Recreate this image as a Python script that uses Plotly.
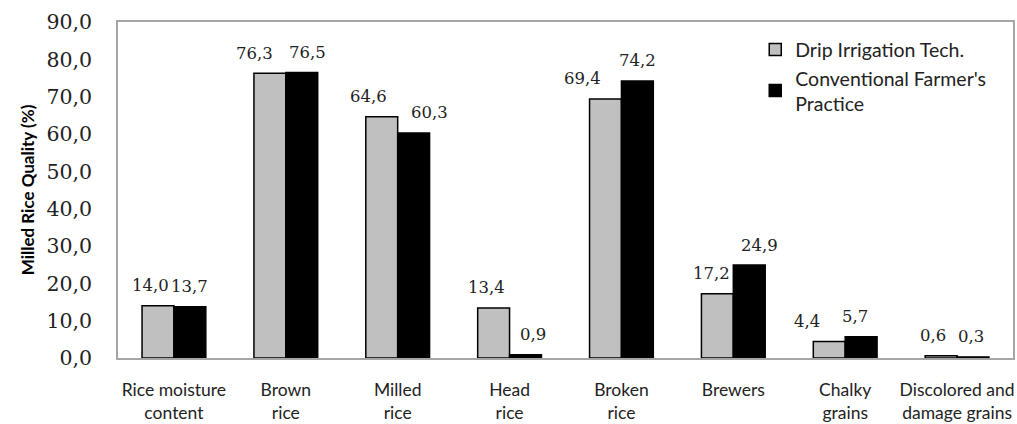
import plotly.graph_objects as go

# Milled rice quality parameters (%)
categories = [
    "Rice moisture<br>content",
    "Brown<br>rice",
    "Milled<br>rice",
    "Head<br>rice",
    "Broken<br>rice",
    "Brewers",
    "Chalky<br>grains",
    "Discolored and<br>damage grains",
]
drip_irrigation = [14.0, 76.3, 64.6, 13.4, 69.4, 17.2, 4.4, 0.6]
conventional_practice = [13.7, 76.5, 60.3, 0.9, 74.2, 24.9, 5.7, 0.3]

y_ticks = [0, 10, 20, 30, 40, 50, 60, 70, 80, 90]

# horizontal nudges (px) of the value labels so neighbouring labels don't collide
drip_label_dx = [-8, -15, -13, -7, -23, -6, -22, -8]
conv_label_dx = [0, 6, 16, 7, 0, 10, -6, -2]

BAR_GAP = 0.43
bar_w = (1 - BAR_GAP) / 2

fig = go.Figure()
fig.add_trace(go.Bar(
    name="Drip Irrigation Tech.",
    x=categories,
    y=drip_irrigation,
    marker=dict(color="#c0c0c0", line=dict(color="#000000", width=1.5)),
))
fig.add_trace(go.Bar(
    name="Conventional Farmer's<br>Practice",
    x=categories,
    y=conventional_practice,
    marker=dict(color="#000000", line=dict(color="#000000", width=1.5)),
))


def fmt(v):
    return f"{v:.1f}".replace(".", ",")


annotations = []
for i in range(len(categories)):
    for values, dx, side in ((drip_irrigation, drip_label_dx, -1),
                             (conventional_practice, conv_label_dx, 1)):
        annotations.append(dict(
            x=i + side * bar_w / 2, y=values[i], xref="x", yref="y",
            text=fmt(values[i]), showarrow=False,
            xanchor="center", yanchor="middle",
            xshift=dx[i], yshift=20,
            font=dict(family="DejaVu Serif", size=16.5, color="#222222"),
        ))

fig.update_layout(
    width=1017,
    height=424,
    margin=dict(l=118, r=4, t=22, b=66, autoexpand=False),
    paper_bgcolor="white",
    plot_bgcolor="white",
    separators=", ",
    barmode="group",
    bargap=BAR_GAP,
    bargroupgap=0,
    font=dict(family="Lato", color="#222222"),
    annotations=annotations,
    legend=dict(
        x=0.712, y=0.975, xanchor="left", yanchor="top",
        bgcolor="rgba(0,0,0,0)",
        font=dict(family="Lato", size=19.5, color="#222222"),
    ),
    xaxis=dict(
        type="category",
        automargin=False,
        showline=True, linecolor="#a6a6a6", linewidth=1.5, mirror=True,
        showgrid=False, ticks="",
        tickfont=dict(family="Lato", size=17.5, color="#222222"),
        ticklabelstandoff=15,
    ),
    yaxis=dict(
        range=[0, 90],
        automargin=False,
        tickvals=y_ticks,
        tickformat=".1f",
        showline=True, linecolor="#a6a6a6", linewidth=1.5, mirror=True,
        showgrid=False, zeroline=False, ticks="",
        tickfont=dict(family="DejaVu Serif", size=20.5, color="#222222"),
        ticklabelstandoff=20,
        title=dict(
            text="<b>Milled Rice Quality (%)</b>",
            font=dict(family="Lato", size=17, color="#000000"),
            standoff=8,
        ),
    ),
)

fig.write_html("out.html")
